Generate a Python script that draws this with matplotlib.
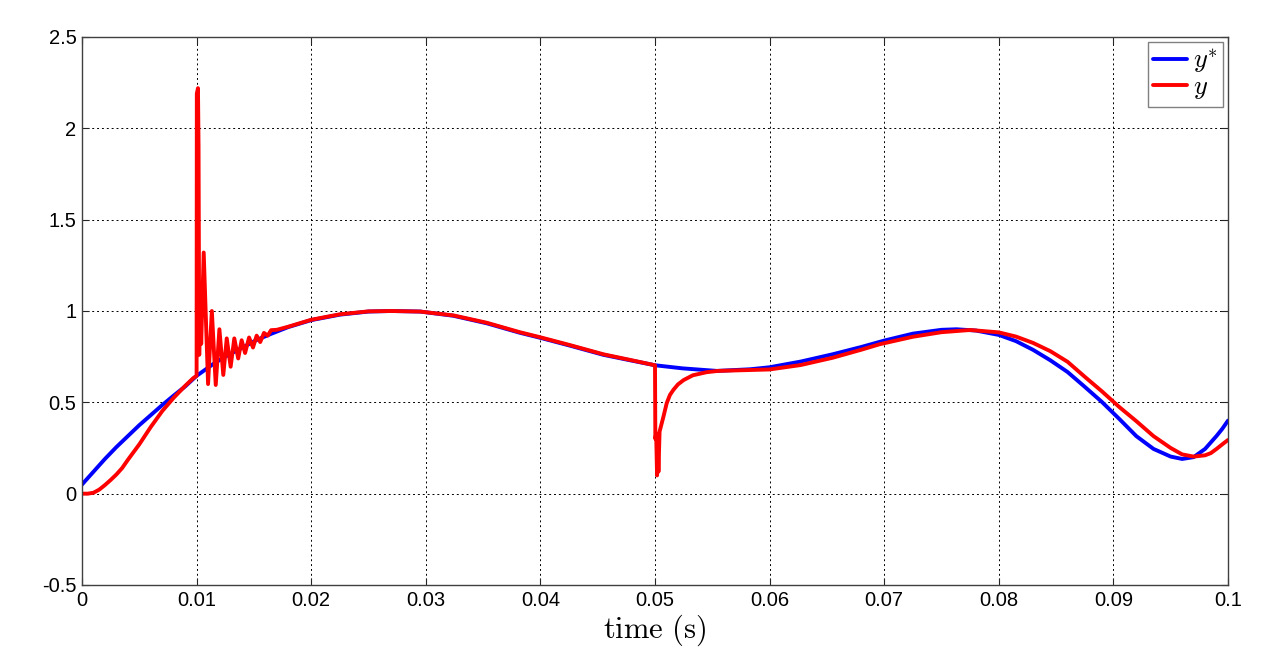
import matplotlib
matplotlib.use("Agg")
import matplotlib.pyplot as plt

# ---- data ----
t_ref = [0.000, 0.001, 0.002, 0.003, 0.004, 0.005, 0.006, 0.007, 0.008, 0.009, 0.010,
         0.0115, 0.0125, 0.014, 0.0152, 0.0165, 0.018, 0.020, 0.0225, 0.025, 0.027,
         0.0295, 0.0324, 0.0353, 0.0382, 0.040, 0.0426, 0.0455, 0.048, 0.050, 0.0524,
         0.0554, 0.0583, 0.060, 0.0627, 0.0655, 0.068, 0.070, 0.0725, 0.075, 0.0763,
         0.078, 0.080, 0.0815, 0.083, 0.0845, 0.086, 0.0875, 0.089, 0.0905, 0.092,
         0.0935, 0.095, 0.096, 0.097, 0.098, 0.099, 0.0995, 0.100]
y_ref = [0.05, 0.12, 0.19, 0.255, 0.315, 0.375, 0.43, 0.485, 0.537, 0.587, 0.645,
         0.712, 0.75, 0.80, 0.84, 0.875, 0.912, 0.95, 0.98, 0.997, 1.0,
         0.997, 0.974, 0.933, 0.881, 0.853, 0.81, 0.76, 0.728, 0.703, 0.686,
         0.672, 0.681, 0.692, 0.723, 0.763, 0.803, 0.838, 0.876, 0.897, 0.90,
         0.893, 0.869, 0.835, 0.787, 0.73, 0.666, 0.585, 0.502, 0.41, 0.315,
         0.245, 0.203, 0.19, 0.2, 0.245, 0.316, 0.355, 0.40]

t_out = [0.000, 0.0005, 0.001, 0.0015, 0.002, 0.0025, 0.003, 0.0035, 0.004, 0.005,
         0.006, 0.007, 0.008, 0.009, 0.0097, 0.0100,
         0.01002, 0.01012, 0.01017, 0.01023, 0.01030, 0.01040, 0.01062, 0.01100, 0.01133,
         0.01167, 0.01199, 0.01233, 0.01263, 0.01297, 0.01329, 0.01363, 0.01393, 0.01423,
         0.01458, 0.01492, 0.01524, 0.01555, 0.01588, 0.01620, 0.01650, 0.0170,
         0.018, 0.020, 0.0225, 0.025, 0.027, 0.0295, 0.0324, 0.0353, 0.0382, 0.040,
         0.0426, 0.0455, 0.048, 0.0500,
         0.05003, 0.05010, 0.05018, 0.05025, 0.05030, 0.05040, 0.05073, 0.05102, 0.0513,
         0.0516, 0.0520, 0.0525, 0.0533, 0.0545, 0.0555, 0.0583, 0.060, 0.0627, 0.0655,
         0.068, 0.0696, 0.0725, 0.075, 0.0775, 0.080, 0.0815, 0.083, 0.0845, 0.086,
         0.0875, 0.089, 0.0905, 0.092, 0.0935, 0.095, 0.096, 0.097, 0.098, 0.0985,
         0.099, 0.0995, 0.100]
y_out = [0.0, 0.0, 0.005, 0.022, 0.047, 0.075, 0.105, 0.14, 0.185, 0.27,
         0.365, 0.452, 0.525, 0.59, 0.632, 0.645,
         2.19, 2.22, 1.9, 0.76, 1.15, 0.82, 1.32, 0.60, 1.00,
         0.595, 0.90, 0.65, 0.85, 0.695, 0.85, 0.74, 0.84, 0.77,
         0.855, 0.80, 0.865, 0.83, 0.88, 0.865, 0.895, 0.897,
         0.914, 0.952, 0.982, 0.998, 1.0, 0.997, 0.976, 0.936, 0.884, 0.856,
         0.813, 0.763, 0.73, 0.703,
         0.30, 0.33, 0.10, 0.26, 0.12, 0.34, 0.42, 0.495, 0.54,
         0.568, 0.598, 0.622, 0.648, 0.665, 0.672, 0.677, 0.68, 0.704, 0.744,
         0.788, 0.818, 0.859, 0.884, 0.896, 0.883, 0.86, 0.825, 0.78, 0.722,
         0.64, 0.56, 0.475, 0.397, 0.315, 0.25, 0.215, 0.203, 0.21, 0.222,
         0.245, 0.27, 0.294]

x_ticks = [0, 0.01, 0.02, 0.03, 0.04, 0.05, 0.06, 0.07, 0.08, 0.09, 0.1]
x_tick_labels = ["0", "0.01", "0.02", "0.03", "0.04", "0.05", "0.06", "0.07", "0.08", "0.09", "0.1"]
y_ticks = [-0.5, 0, 0.5, 1, 1.5, 2, 2.5]
y_tick_labels = ["-0.5", "0", "0.5", "1", "1.5", "2", "2.5"]

plt.rcParams['mathtext.fontset'] = 'cm'
plt.rcParams['font.family'] = ['Liberation Sans', 'DejaVu Sans']

fig = plt.figure(figsize=(12.71, 6.57), dpi=100)
ax = fig.add_axes([82/1271, 1 - 585/657, (1228 - 82)/1271, (585 - 37)/657])

ax.plot(t_ref, y_ref, color='#0000ff', lw=2.8, label=r'$y^{*}$',
        solid_joinstyle='round', solid_capstyle='round')
ax.plot(t_out, y_out, color='#ff0000', lw=2.8, label=r'$y$',
        solid_joinstyle='round', solid_capstyle='round')

ax.set_xlim(0, 0.1)
ax.set_ylim(-0.5, 2.5)
ax.set_xticks(x_ticks)
ax.set_xticklabels(x_tick_labels)
ax.set_yticks(y_ticks)
ax.set_yticklabels(y_tick_labels)
ax.tick_params(direction='in', length=5, width=0.8, labelsize=14.5, colors='#262626',
               labelcolor='black', top=True, right=True)
ax.tick_params(axis='x', pad=4)
ax.tick_params(axis='y', pad=4)
for s in ax.spines.values():
    s.set_color('#404040')
    s.set_linewidth(1.0)
ax.grid(True, color='black', linestyle=(0, (2, 3)), linewidth=0.7)

ax.set_xlabel(r'$\mathrm{time\ (s)}$', fontsize=22, labelpad=2)

leg = ax.legend(loc='upper right', fontsize=19, frameon=True, fancybox=False,
                handlelength=1.3, handletextpad=0.2, borderpad=0.2, labelspacing=0.0,
                borderaxespad=0.2)
leg.get_frame().set_edgecolor('#606060')
leg.get_frame().set_linewidth(1.0)

fig.savefig('out.png', dpi=100)
